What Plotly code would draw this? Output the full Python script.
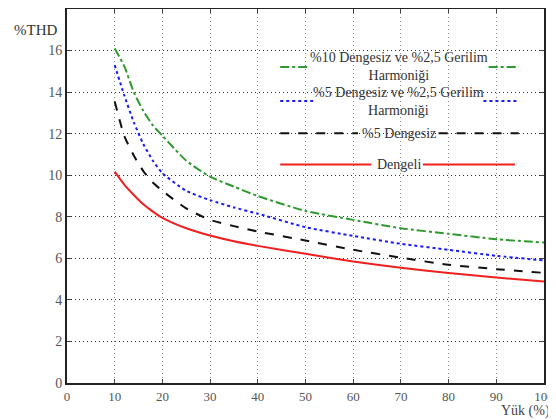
import plotly.graph_objects as go

x_load = [10, 12, 14, 16, 18, 20, 25, 30, 35, 40, 50, 60, 70, 80, 90, 100]

thd_10_unb_harm = [16.1, 15.25, 14.0, 13.1, 12.4, 11.9, 10.7, 9.93, 9.45, 9.0, 8.28, 7.85, 7.45, 7.18, 6.92, 6.76]
thd_5_unb_harm = [15.3, 13.85, 12.55, 11.5, 10.7, 10.1, 9.25, 8.8, 8.45, 8.15, 7.5, 7.08, 6.7, 6.41, 6.12, 5.9]
thd_5_unb = [13.55, 11.9, 10.95, 10.2, 9.65, 9.25, 8.4, 7.85, 7.55, 7.29, 6.86, 6.41, 6.03, 5.69, 5.48, 5.3]
thd_balanced = [10.17, 9.55, 9.05, 8.6, 8.25, 7.95, 7.45, 7.1, 6.82, 6.6, 6.22, 5.85, 5.55, 5.29, 5.08, 4.88]

series_names = ["%10 Dengesiz ve %2,5 Gerilim<br>Harmoniği",
                "%5 Dengesiz ve %2,5 Gerilim<br>Harmoniği",
                "%5 Dengesiz",
                "Dengeli"]
series_values = [thd_10_unb_harm, thd_5_unb_harm, thd_5_unb, thd_balanced]
colors = ["#2e9a2e", "#1a1aff", "#111111", "#f02020"]
dashes = ["dashdot", "dot", "dash", "solid"]

x_ticks = [0, 10, 20, 30, 40, 50, 60, 70, 80, 90, 100]
y_ticks = [0, 2, 4, 6, 8, 10, 12, 14, 16, 18]

# legend layout (data coordinates): y, left segment, text centre, right segment
legend_y = [15.21, 13.57, 12.02, 10.52]
legend_left = [(44.7, 50.5), (44.7, 51.6), (44.7, 61.0), (44.7, 63.8)]
legend_right = [(88.4, 94.7), (87.3, 94.7), (77.9, 94.7), (74.6, 93.9)]
legend_text_x = 69.6

FONT = "Times New Roman, Liberation Serif, DejaVu Serif, serif"
fig = go.Figure()

for name, vals, c, d in zip(series_names, series_values, colors, dashes):
    fig.add_trace(go.Scatter(x=x_load, y=vals, mode="lines", name=name,
                             line=dict(color=c, width=2, dash=d, shape="spline", smoothing=0.6),
                             showlegend=False))

shapes = []
annotations = []
for i in range(4):
    for seg in (legend_left[i], legend_right[i]):
        shapes.append(dict(type="line", xref="x", yref="y", x0=seg[0], x1=seg[1],
                           y0=legend_y[i], y1=legend_y[i],
                           line=dict(color=colors[i], width=2, dash=dashes[i])))
    annotations.append(dict(x=legend_text_x, y=legend_y[i], xref="x", yref="y",
                            text=series_names[i], showarrow=False,
                            xanchor="center", yanchor="middle",
                            font=dict(family=FONT, size=14, color="#333333")))

annotations.append(dict(x=-0.115, y=0.944, xref="paper", yref="paper", text="%THD", showarrow=False,
                        xanchor="left", yanchor="middle",
                        font=dict(family=FONT, size=15, color="#333333")))
annotations.append(dict(x=1.015, y=-0.1, xref="paper", yref="paper", text="Yük (%)", showarrow=False,
                        xanchor="right", yanchor="bottom", borderpad=0,
                        font=dict(family=FONT, size=14, color="#444444")))

fig.update_layout(
    width=548, height=412,
    margin=dict(l=59, r=12, t=1, b=37, autoexpand=False),
    paper_bgcolor="white", plot_bgcolor="white",
    shapes=shapes, annotations=annotations,
    font=dict(family=FONT, size=14, color="#444444"),
    showlegend=False,
)
fig.update_xaxes(range=[0, 100], tickvals=x_ticks, ticks="inside", ticklen=4,
                 showline=True, linecolor="#222222", linewidth=2, mirror="ticks",
                 showgrid=True, gridcolor="#888888", griddash="1px,3px", gridwidth=1,
                 zeroline=False, automargin=False, ticklabelstandoff=0,
                 tickfont=dict(family=FONT, size=13, color="#555555"))
fig.update_yaxes(range=[0, 18], tickvals=y_ticks, ticks="inside", ticklen=4,
                 showline=True, linecolor="#222222", linewidth=2, mirror="ticks",
                 showgrid=True, gridcolor="#333333", griddash="1px,3px", gridwidth=1,
                 zeroline=False, automargin=False,
                 tickfont=dict(family=FONT, size=14, color="#555555"))

fig.write_html("out.html")
